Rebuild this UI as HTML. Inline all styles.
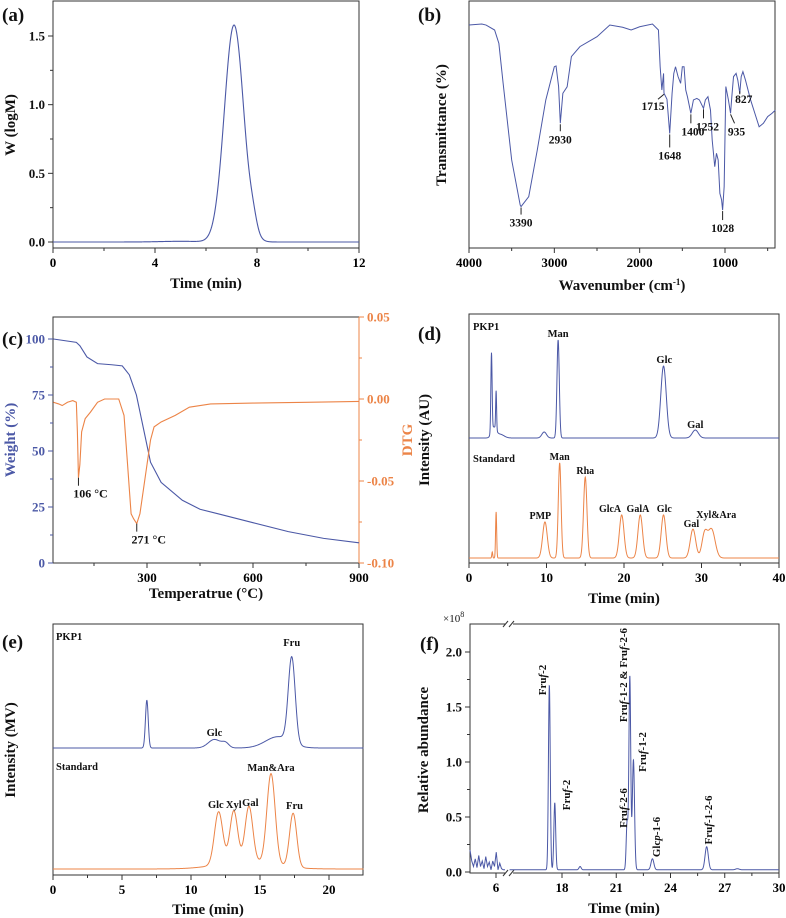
<!DOCTYPE html>
<html><head><meta charset="utf-8">
<style>
html,body{margin:0;padding:0;background:#fff;}
svg{display:block;font-family:"Liberation Serif",serif;font-weight:bold;}
</style></head>
<body>
<svg id="fig" width="786" height="918" viewBox="0 0 786 918" xmlns="http://www.w3.org/2000/svg"></svg>
<script>
// ---------- DATA ----------
const aPeakT=[7.1,7.85,5.0];
const aPeakH=[1.58,0.08,0.005];
const aPeakW=[0.38,0.15,0.8];
const bWn=[4000,3850,3800,3700,3650,3600,3500,3400,3390,3300,3200,3100,3000,2980,2950,2930,2900,2850,2800,2700,2500,2350,2200,2100,2000,1850,1780,1760,1740,1720,1715,1680,1648,1620,1600,1580,1550,1520,1500,1480,1460,1440,1400,1370,1330,1300,1252,1230,1200,1170,1150,1120,1100,1080,1060,1040,1028,1010,990,960,935,920,900,870,850,827,810,790,760,700,650,600,550,500,450,410];
const bT=[89.9,90.3,89.9,87.9,82.5,66.4,35.5,17.3,16.7,20.7,39.5,59.7,73.1,73.4,65.1,50.3,62.4,65,77.2,81.2,85.2,89.9,89.0,87.9,89.2,90.3,87.9,73.1,63.7,70.4,62.4,60,46.2,62.4,70.4,73.1,69.1,66.4,73.1,73.1,63.7,61.0,54.3,59.7,60.3,59.7,56.3,59.7,61.0,55.6,43.5,32.8,38.2,35.5,22.0,19.4,15.3,24.7,65.1,59.7,54.3,61.0,69.1,70.4,67.7,62.4,69.1,71.1,67.7,59.7,54.3,48.9,50.3,53.0,54.3,55.6];
const bMarks=[3390,2930,1715,1648,1400,1252,1028,935,827];
const cTemp=[35,100,110,130,160,200,230,250,270,290,310,340,400,450,500,600,700,800,900];
const cWeight=[100,98.5,97,92,89,88.5,88,84,75,60,45,36,28,24,22,18,14,11,9];
const cDtgT=[35,50,60,75,90,100,103,106,110,115,125,140,160,180,220,235,245,255,262,271,280,290,300,310,320,340,380,420,480,600,750,900];
const cDtg=[-0.002,-0.003,-0.004,-0.002,-0.001,-0.002,-0.02,-0.048,-0.04,-0.02,-0.012,-0.008,-0.002,0.0,0.0,-0.01,-0.04,-0.07,-0.073,-0.076,-0.07,-0.055,-0.04,-0.025,-0.017,-0.014,-0.01,-0.005,-0.003,-0.0025,-0.002,-0.0015];
const dPkpT=[2.9,3.2,3.5,4.0,9.7,11.5,25.1,29.2];
const dPkpH=[31.7,4,15.7,1.5,2.4,39.4,28.9,3.2];
const dPkpW=[0.08,0.3,0.06,0.5,0.3,0.15,0.35,0.4];
const dStdT=[3.0,3.5,9.8,11.7,15.0,19.7,22.1,25.1,28.9,30.4,31.3];
const dStdH=[2.4,18.5,14.5,38.2,32.5,17.3,17.3,17.3,11.6,9.5,11.5];
const dStdW=[0.06,0.07,0.3,0.18,0.22,0.3,0.3,0.3,0.35,0.35,0.45];
const ePkpT=[6.8,11.7,12.5,16.3,17.3];
const ePkpH=[19.1,3.4,1.8,4.5,34];
const ePkpW=[0.1,0.45,0.25,0.9,0.25];
const eStdT=[12.0,13.1,14.2,15.8,17.4,14.0];
const eStdH=[21,20.5,22,36,21.5,3];
const eStdW=[0.3,0.28,0.28,0.3,0.26,2.0];
const fNoiseT=[4.5,4.6,4.7,4.8,4.9,5.0,5.1,5.2,5.3,5.4,5.5,5.6,5.7,5.8,5.9,6.0,6.1,6.2,6.3,6.4,6.5];
const fNoise=[0.2,0.1,0.05,0.12,0.04,0.15,0.05,0.1,0.03,0.14,0.05,0.09,0.02,0.1,0.05,0.18,0.02,0.08,0.03,0.02,0.02];
const fPeakT=[17.3,17.6,19.0,21.6,21.75,21.95,23.0,26.0,27.7];
const fPeakH=[1.68,0.61,0.03,0.43,1.76,1.0,0.1,0.21,0.01];
const fPeakW=[0.05,0.05,0.06,0.05,0.05,0.06,0.08,0.09,0.1];

// ---------- HELPERS ----------
const NS="http://www.w3.org/2000/svg";
const svg=document.getElementById('fig');
const BLUE="#4b58a6", ORANGE="#ec8447";
function el(tag,attrs,parent,text){const e=document.createElementNS(NS,tag);for(const k in attrs)e.setAttribute(k,attrs[k]);if(text!==undefined)e.textContent=text;(parent||svg).appendChild(e);return e;}
function lin(d0,d1,r0,r1){return v=>r0+(v-d0)/(d1-d0)*(r1-r0);}
function gsum(t,T,H,W,base){let s=base;for(let i=0;i<T.length;i++){const z=(t-T[i])/W[i];s+=H[i]*Math.exp(-0.5*z*z);}return s;}
function pathFrom(xsArr,ysArr,xs,ys){let d="";for(let i=0;i<xsArr.length;i++){d+=(i?"L":"M")+xs(xsArr[i]).toFixed(2)+","+ys(ysArr[i]).toFixed(2);}return d;}
function grid(a,b,n){const r=[];for(let i=0;i<=n;i++)r.push(a+(b-a)*i/n);return r;}
function box(g,x0,y0,x1,y1){el('rect',{x:x0,y:y0,width:x1-x0,height:y1-y0,fill:'none',stroke:'#333','stroke-width':1},g);}
function xTicks(g,vals,xs,y,len,labels){vals.forEach((v,i)=>{const x=xs(v);el('line',{x1:x,y1:y,x2:x,y2:y+len,stroke:'#333'},g);if(labels){const t=el('text',{x:x,y:y+19,'text-anchor':'middle','font-size':13},g,labels[i]);}});}
function yTicks(g,vals,ys,x,len,labels,anchor,color){vals.forEach((v,i)=>{const y=ys(v);el('line',{x1:x,y1:y,x2:x+len,y2:y,stroke:color||'#333'},g);if(labels){const tx=len<0?x+len-3:x+len+3;const t=el('text',{x:tx,y:y+4.5,'text-anchor':anchor||'end','font-size':13,fill:color||'#111'},g,labels[i]);}});}
function txt(g,x,y,s,size,name,extra){const a=Object.assign({x:x,y:y,'font-size':size,'text-anchor':'middle',fill:'#111'},extra||{});const t=el('text',a,g);t.innerHTML=s;return t;}
function panel(name){const g=el('g',{},svg);return g;}

// ---------- (a) ----------
(function(){const g=panel('panel-a-gpc');
const L=53,R=359,T=1,B=248;const xs=lin(0,12,L,R),ys=lin(0,1.5,242,36);
box(g,L,T,R,B);
xTicks(g,[0,4,8,12],xs,B,5,['0','4','8','12']);xTicks(g,[2,6,10],xs,B,3);
yTicks(g,[0,0.5,1.0,1.5],ys,L,-5,['0.0','0.5','1.0','1.5']);yTicks(g,[0.25,0.75,1.25],ys,L,-3);
const t=grid(0,12,600);const y=t.map(v=>gsum(v,aPeakT,aPeakH,aPeakW,0));
const p=el('path',{d:pathFrom(t,y,xs,ys),fill:'none',stroke:BLUE,'stroke-width':1.1},g);
txt(g,206,288,'Time (min)',15,'x-axis-title');
txt(g,0,0,'W (logM)',15,'y-axis-title',{transform:'translate(15,125) rotate(-90)'});
txt(g,2,21,'(a)',19,'panel-label',{'text-anchor':'start'});
})();

// ---------- (b) ----------
(function(){const g=panel('panel-b-ftir');
const L=469,R=775,T=1,B=248;const xs=lin(4000,1000,469,725),ys=lin(0,100,248,0);
box(g,L,T,R,B);
xTicks(g,[4000,3000,2000,1000],xs,B,5,['4000','3000','2000','1000']);xTicks(g,[3500,2500,1500,500],xs,B,3);
const p=el('path',{d:pathFrom(bWn,bT,xs,ys),fill:'none',stroke:BLUE,'stroke-width':1},g);
const lab={3390:[0,8,0,20],2930:[0,8,0,20],1715:[-6,6,-11,17],1648:[0,14,0,26],1400:[0,10,2,22],1252:[0,10,4,22],1028:[0,10,0,22],935:[4,10,6,22],827:[0,-2,4,10]};
bMarks.forEach(w=>{const i=bWn.indexOf(w);const x=xs(w),y=ys(bT[i]);const o=lab[w];
 el('line',{x1:x,y1:y+1,x2:x+o[0],y2:y+o[1],stroke:'#222'},g);
 txt(g,x+o[2],y+o[3],String(w),11.5,'peak-label-'+w);});
txt(g,622,290,'Wavenumber (cm<tspan font-size="9" dy="-5">-1</tspan><tspan dy="5">)</tspan>',15,'x-axis-title');
txt(g,0,0,'Transmittance (%)',15,'y-axis-title',{transform:'translate(446,125) rotate(-90)'});
txt(g,418,21,'(b)',19,'panel-label',{'text-anchor':'start'});
})();

// ---------- (c) ----------
(function(){const g=panel('panel-c-tga');
const L=53,R=359,T=317,B=563;const xs=lin(300,900,147,359),ys=lin(0,100,563,339),yr=lin(-0.1,0.05,563,317);
box(g,L,T,R,B);
el('line',{x1:R,y1:T,x2:R,y2:B,stroke:ORANGE},g);
xTicks(g,[300,600,900],xs,B,5,['300','600','900']);xTicks(g,[150,450,750],xs,B,3);
yTicks(g,[0,25,50,75,100],ys,L,-5,['0','25','50','75','100'],'end',BLUE);yTicks(g,[12.5,37.5,62.5,87.5],ys,L,-3,null,'end',BLUE);
yTicks(g,[-0.1,-0.05,0,0.05],yr,R,5,['-0.10','-0.05','0.00','0.05'],'start',ORANGE);yTicks(g,[-0.075,-0.025,0.025],yr,R,3,null,'start',ORANGE);
const p1=el('path',{d:pathFrom(cTemp,cWeight,xs,ys),fill:'none',stroke:BLUE,'stroke-width':1.1},g);
const p2=el('path',{d:pathFrom(cDtgT,cDtg,xs,yr),fill:'none',stroke:ORANGE,'stroke-width':1.1},g);
el('line',{x1:xs(106),y1:yr(-0.048),x2:xs(106),y2:yr(-0.048)+8,stroke:'#222'},g);
el('line',{x1:xs(271),y1:yr(-0.076),x2:xs(271),y2:yr(-0.076)+8,stroke:'#222'},g);
txt(g,xs(106)+12,yr(-0.048)+20,'106 °C',12,'dtg-peak-label-106');
txt(g,xs(271)+12,yr(-0.076)+20,'271 °C',12,'dtg-peak-label-271');
txt(g,206,598,'Temperatrue (°C)',15,'x-axis-title');
txt(g,0,0,'Weight (%)',15,'y-axis-title-left',{transform:'translate(15,440) rotate(-90)',fill:BLUE});
txt(g,0,0,'DTG',15,'y-axis-title-right',{transform:'translate(412,440) rotate(-90)',fill:ORANGE});
txt(g,2,345,'(c)',19,'panel-label',{'text-anchor':'start'});
})();

// ---------- (d) ----------
(function(){const g=panel('panel-d-pmp-hplc');
const L=469,R=779,T=314,B=563;const xs=lin(0,40,L,R),ys=lin(0,100,563,314);
box(g,L,T,R,B);
xTicks(g,[0,10,20,30,40],xs,B,5,['0','10','20','30','40']);xTicks(g,[5,15,25,35],xs,B,3);
const t=grid(0,40,1600);
const y1=t.map(v=>gsum(v,dPkpT,dPkpH,dPkpW,50.2));
const y2=t.map(v=>gsum(v,dStdT,dStdH,dStdW,2.0));
const p1=el('path',{d:pathFrom(t,y1,xs,ys),fill:'none',stroke:BLUE,'stroke-width':1},g);
const p2=el('path',{d:pathFrom(t,y2,xs,ys),fill:'none',stroke:ORANGE,'stroke-width':1},g);
txt(g,473,330,'PKP1',10.5,'trace-label-pkp1',{'text-anchor':'start'});
txt(g,473,462,'Standard',10.5,'trace-label-standard',{'text-anchor':'start'});
[['Man',11.5,337],['Glc',25.2,363],['Gal',29.2,428]].forEach(a=>txt(g,xs(a[1]),a[2],a[0],10.5,'peak-label'));
[['Man',11.7,460],['Rha',15.0,474],['PMP',9.2,519],['GlcA',18.2,512],['GalA',21.8,512],['Glc',25.2,512],['Gal',28.7,527],['Xyl&amp;Ara',31.9,518]].forEach(a=>txt(g,xs(a[1]),a[2],a[0],10,'peak-label'));
txt(g,624,603,'Time (min)',15,'x-axis-title');
txt(g,0,0,'Intensity (AU)',15,'y-axis-title',{transform:'translate(429,440) rotate(-90)'});
txt(g,418,340,'(d)',19,'panel-label',{'text-anchor':'start'});
})();

// ---------- (e) ----------
(function(){const g=panel('panel-e-hplc');
const L=53,R=363,T=624,B=875;const xs=lin(0,20,53,329),ys=lin(0,100,875,624);
box(g,L,T,R,B);
xTicks(g,[0,5,10,15,20],xs,B,5,['0','5','10','15','20']);xTicks(g,[2.5,7.5,12.5,17.5],xs,B,3);
const t=grid(0,22.5,900);
const y1=t.map(v=>gsum(v,ePkpT,ePkpH,ePkpW,50.6));
const y2=t.map(v=>gsum(v,eStdT,eStdH,eStdW,2.4));
const p1=el('path',{d:pathFrom(t,y1,xs,ys),fill:'none',stroke:BLUE,'stroke-width':1},g);
const p2=el('path',{d:pathFrom(t,y2,xs,ys),fill:'none',stroke:ORANGE,'stroke-width':1},g);
txt(g,56,640,'PKP1',10.5,'trace-label-pkp1',{'text-anchor':'start'});
txt(g,56,770,'Standard',10.5,'trace-label-standard',{'text-anchor':'start'});
[['Fru',17.3,646],['Glc',11.7,736],['Man&amp;Ara',15.8,771],['Glc',11.8,808],['Xyl',13.1,808],['Gal',14.3,806],['Fru',17.5,809]].forEach(a=>txt(g,xs(a[1]),a[2],a[0],10.5,'peak-label'));
txt(g,208,914,'Time (min)',15,'x-axis-title');
txt(g,0,0,'Intensity (MV)',15,'y-axis-title',{transform:'translate(15,750) rotate(-90)'});
txt(g,2,648,'(e)',19,'panel-label',{'text-anchor':'start'});
})();

// ---------- (f) ----------
(function(){const g=panel('panel-f-gcms');
const L=470,R=779,T=624,B=873;const ys=lin(0,2.0,872,652);
const xs1=lin(6,6.5,496,505),xs2=lin(18,30,562,779);
box(g,L,T,R,B);
el('rect',{x:505,y:T-4,width:8,height:8,fill:'#fff'},g);el('rect',{x:505,y:B-4,width:8,height:8,fill:'#fff'},g);
[T,B].forEach(yy=>{el('line',{x1:503,y1:yy+3,x2:508,y2:yy-3,stroke:'#333'},g);el('line',{x1:509,y1:yy+3,x2:514,y2:yy-3,stroke:'#333'},g);});
xTicks(g,[6],xs1,B,5,['6']);xTicks(g,[18,21,24,27,30],xs2,B,5,['18','21','24','27','30']);xTicks(g,[19.5,22.5,25.5,28.5],xs2,B,3);
yTicks(g,[0,0.5,1.0,1.5,2.0],ys,L,-5,['0.0','0.5','1.0','1.5','2.0']);yTicks(g,[0.25,0.75,1.25,1.75],ys,L,-3);
const xs1b=lin(4.5,6.5,470,505);
const p0=el('path',{d:pathFrom(fNoiseT,fNoise,xs1b,ys),fill:'none',stroke:BLUE,'stroke-width':1},g);
const t=grid(15.1,30,1500);const y=t.map(v=>gsum(v,fPeakT,fPeakH,fPeakW,0.02));
const p1=el('path',{d:pathFrom(t,y,xs2,ys),fill:'none',stroke:BLUE,'stroke-width':1},g);
const rl=(x,y,s,n)=>txt(g,0,0,s,11,n,{transform:'translate('+x+','+y+') rotate(-90)'});
rl(546,680,'Fru<tspan font-style="italic">f</tspan>-2','peak-label');
rl(570,795,'Fru<tspan font-style="italic">f</tspan>-2','peak-label');
rl(627,675,'Fru<tspan font-style="italic">f</tspan>-1-2 &amp; Fru<tspan font-style="italic">f</tspan>-2-6','peak-label');
rl(646,752,'Fru<tspan font-style="italic">f</tspan>-1-2','peak-label');
rl(627,808,'Fru<tspan font-style="italic">f</tspan>-2-6','peak-label');
rl(660,837,'Glc<tspan font-style="italic">p</tspan>-1-6','peak-label');
rl(712,820,'Fru<tspan font-style="italic">f</tspan>-1-2-6','peak-label');
txt(g,443,622,'×10<tspan font-size="8" dy="-5">8</tspan>',11,'y-axis-multiplier',{'text-anchor':'start','font-weight':'normal'});
txt(g,624,913,'Time (min)',15,'x-axis-title');
txt(g,0,0,'Relative abundance',15,'y-axis-title',{transform:'translate(428,750) rotate(-90)'});
txt(g,420,650,'(f)',19,'panel-label',{'text-anchor':'start'});
})();
</script>
</body></html>
